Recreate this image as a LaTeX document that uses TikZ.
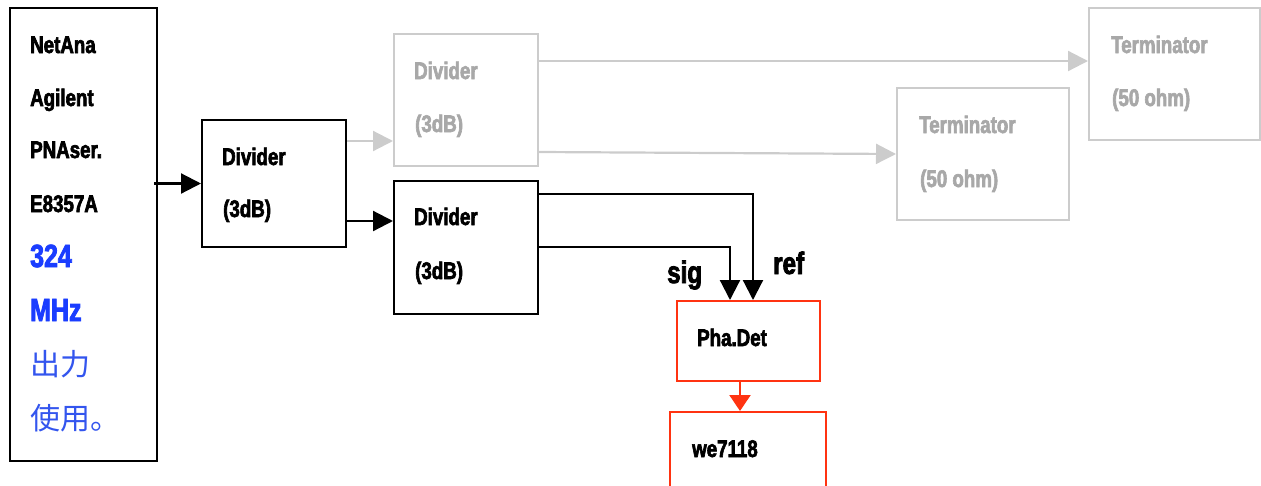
\documentclass[tikz,border=0pt]{standalone}
\usepackage{fontspec}
\setmainfont{Liberation Sans}[FakeStretch=0.78, BoldFeatures={FakeBold=2.6}]
\newfontfamily\cjk{Noto Sans CJK SC}
\usetikzlibrary{arrows.meta}
\definecolor{lgray}{HTML}{CCCCCC}
\definecolor{tgray}{HTML}{A8A8A8}
\definecolor{rred}{HTML}{FF3311}
\definecolor{bblue}{HTML}{1A3DFF}
\definecolor{cblue}{HTML}{3355EE}
\tikzset{
  box/.style={draw, line width=2pt, inner sep=0pt, minimum width=#1},
  gbox/.style={box=#1, draw=lgray},
  rbox/.style={box=#1, draw=rred},
  txt/.style={anchor=base west, inner sep=0pt, font=\bfseries\fontsize{24}{24}\selectfont},
  gtxt/.style={txt, text=tgray},
  big/.style={anchor=base west, inner sep=0pt, font=\bfseries\fontsize{31}{31}\selectfont},
  btxt/.style={anchor=base west, inner sep=0pt, text=bblue, font=\bfseries\fontsize{32}{32}\selectfont},
  ctxt/.style={anchor=base west, inner sep=0pt, text=cblue, font=\cjk\fontsize{30}{30}\selectfont},
  arr/.style={line width=2.2pt, -{Triangle[length=20pt,width=20pt]}},
  garr/.style={arr, draw=lgray, fill=lgray},
  rarr/.style={line width=2.2pt, draw=rred, -{Triangle[length=16pt,width=21pt,fill=rred]}},
}
\begin{document}
\begin{tikzpicture}[x=1pt,y=-1pt]
\useasboundingbox (0,0) rectangle (1261,485);
\clip (0,0) rectangle (1261,485);
% boxes
\node[box=147pt, minimum height=453pt] (L) at (83.5,234.5) {};
\node[box=144pt, minimum height=127pt] (d1) at (274,183.5) {};
\node[gbox=144pt, minimum height=132pt] (gd) at (466,100) {};
\node[box=144pt, minimum height=133pt] (d2) at (466,247.5) {};
\node[gbox=172pt, minimum height=132pt] (t1) at (983,154) {};
\node[gbox=171pt, minimum height=132pt] (t2) at (1174.5,74) {};
\node[rbox=143pt, minimum height=80pt] (pd) at (748.5,341) {};
\node[rbox=156pt, minimum height=110pt] (we) at (748,467) {};
% left box text
\node[txt] (l1) at (30,53) {NetAna};
\node[txt] (l2) at (30,106) {Agilent};
\node[txt] (l3) at (30,158) {PNAser.};
\node[txt] (l4) at (30,212) {E8357A};
\node[btxt] (l5) at (30,267) {324};
\node[btxt] (l6) at (30,321) {MHz};
\node[ctxt] (l7) at (30,375) {出力};
\node[ctxt] (l8) at (30,429) {使用。};
% divider texts
\node[txt] (d1a) at (222,165) {Divider};
\node[txt] (d1b) at (223,217) {(3dB)};
\node[gtxt] (gda) at (414,79) {Divider};
\node[gtxt] (gdb) at (415,132) {(3dB)};
\node[txt] (d2a) at (414,225) {Divider};
\node[txt] (d2b) at (415,279) {(3dB)};
% terminators
\node[gtxt] (t2a) at (1111,53) {Terminator};
\node[gtxt] (t2b) at (1112,106) {(50 ohm)};
\node[gtxt] (t1a) at (919,133) {Terminator};
\node[gtxt] (t1b) at (920,187) {(50 ohm)};
% detector
\node[txt] (pda) at (697,346) {Pha.Det};
\node[txt] (wea) at (692,457) {we7118};
\node[big] (sig) at (667,283) {sig};
\node[big] (ref) at (773,274) {ref};
% connectors
\draw[arr] ([xshift=-4pt]L.east |- d1.west) -- (d1.west);
\draw[garr] ([yshift=42.5pt]d1.east) coordinate (a1) -- (a1 -| gd.west);
\draw[arr] ([yshift=-37.5pt]d1.east) coordinate (a2) -- (a2 -| d2.west);
\draw[garr] ([yshift=39pt]gd.east) coordinate (a3) -- (a3 -| t2.west);
\draw[garr] ([yshift=-52pt]gd.east) -- (t1.west);
\draw[arr] ([yshift=53.5pt]d2.east) coordinate (a4) -| ([xshift=4.5pt]pd.north);
\draw[arr] ([yshift=0.5pt]d2.east) -| ([xshift=-18.5pt]pd.north);
\draw[rarr] ([xshift=-8.5pt]pd.south) coordinate (a5) -- (a5 |- we.north);
\end{tikzpicture}
\end{document}
